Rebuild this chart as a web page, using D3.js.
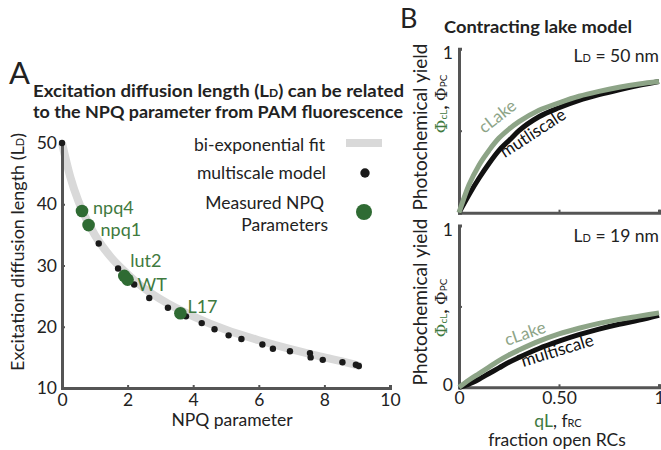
<!DOCTYPE html>
<html><head><meta charset="utf-8">
<script src="https://cdn.jsdelivr.net/npm/d3@7"></script>
<style>
body{margin:0;background:#fff;}
svg{display:block;font-family:Lato,"Open Sans",sans-serif;}
</style></head>
<body><svg id="c" width="661" height="450"></svg>
<script>
// ---------- Panel A data ----------
const npqModel = [0,1.12,1.71,2.2,2.66,3.23,3.78,4.26,4.65,5.08,5.47,6.11,6.43,6.95,7.56,7.58,7.95,8.55,8.96,9.05];
const ldModel  = [50,33.6,29.5,26.9,24.7,23.1,21.7,20.6,19.6,18.6,18.0,17.1,16.4,16.0,15.7,15.0,14.6,14.2,13.8,13.6];
const fitNpq = [0,0.25,0.5,0.75,1,1.5,2,2.5,3,4,5,6,7,8,9,9.1];
const fitLd  = [50,44.5,40.5,37.5,35,31.3,28.6,26.3,24.5,21.7,19.5,17.8,16.3,15.0,13.7,13.55];
const mutants = ["npq4","npq1","lut2","WT","L17"];
const mutNpq  = [0.61,0.81,1.9,2.0,3.61];
const mutLd   = [38.9,36.6,28.3,27.7,22.2];
const xTicksA = [0,2,4,6,8,10];
const yTicksA = [10,20,30,40,50];
// ---------- Panel B data ----------
const frac = [0,0.05,0.1,0.15,0.2,0.25,0.3,0.4,0.5,0.6,0.7,0.8,0.9,1.0];
const top_cLake = [0,0.17,0.29,0.38,0.455,0.51,0.555,0.625,0.67,0.71,0.74,0.765,0.785,0.80];
const top_multi = [0,0.11,0.21,0.30,0.38,0.44,0.50,0.585,0.64,0.685,0.72,0.75,0.777,0.80];
const bot_cLake = [0,0.045,0.085,0.125,0.165,0.20,0.23,0.285,0.33,0.365,0.395,0.42,0.44,0.46];
const bot_multi = [0,0.02,0.05,0.085,0.12,0.155,0.185,0.24,0.285,0.325,0.36,0.39,0.415,0.445];
const xTicksB = [0,0.5,1];
const xTickLabelsB = ["0","0.50","1"];

const svg = d3.select("#c");
const AX = "#555";
const GREEN = "#2f6b33";
const GTEXT = "#3f7a40";
const LAKE = "#8da487";
const FS = 17.5;

// ======== Panel A ========
const xA = d3.scaleLinear().domain([0,10]).range([62,390]);
const yA = d3.scaleLinear().domain([10,50]).range([388,143]);

svg.append("text").attr("x",9).attr("y",84).attr("font-size",31).attr("fill","#222").text("A");
svg.append("text").attr("x",33).attr("y",97).attr("font-size",17).attr("font-weight","bold").attr("fill","#222")
  .attr("textLength",371).attr("lengthAdjust","spacingAndGlyphs")
  .html('Excitation diffusion length (L<tspan font-size="11">D</tspan>) can be related');
svg.append("text").attr("x",33).attr("y",118).attr("font-size",17).attr("font-weight","bold").attr("fill","#222")
  .attr("textLength",370).attr("lengthAdjust","spacingAndGlyphs")
  .text("to the NPQ parameter from PAM fluorescence");

// fit band
const fitData = fitNpq.map((x,i)=>[x,fitLd[i]]);
svg.append("path").datum(fitData)
  .attr("d", d3.line().x(d=>xA(d[0])).y(d=>yA(d[1])).curve(d3.curveMonotoneX))
  .attr("fill","none").attr("stroke","#d9d9d9").attr("stroke-width",8);

// axes
const gxA = svg.append("g").attr("transform","translate(0,388)")
  .call(d3.axisBottom(xA).tickValues(xTicksA).tickSize(-3).tickPadding(4).tickFormat(d3.format("d")));
const gyA = svg.append("g").attr("transform","translate(62,0)")
  .call(d3.axisLeft(yA).tickValues(yTicksA).tickSize(-3).tickPadding(5));
[gxA,gyA].forEach(g=>{
  g.select(".domain").attr("stroke",AX).attr("stroke-width",3);
  g.selectAll(".tick line").attr("stroke",AX).attr("stroke-width",2);
  g.selectAll(".tick text").attr("font-size",FS).attr("fill","#222").attr("font-family","Lato,sans-serif");
});
gxA.selectAll(".tick text").attr("dy","0.8em");
svg.append("text").attr("x",232).attr("y",426).attr("text-anchor","middle").attr("font-size",FS).attr("fill","#222").text("NPQ parameter");
svg.append("text").attr("transform","translate(24,252) rotate(-90)").attr("text-anchor","middle").attr("font-size",FS+0.5).attr("fill","#222")
  .html('Excitation diffusion length (L<tspan font-size="11">D</tspan>)');

// model dots
svg.append("g").selectAll("circle").data(npqModel).join("circle")
  .attr("cx",d=>xA(d)).attr("cy",(d,i)=>yA(ldModel[i])).attr("r",3.2).attr("fill","#1a1a1a");
// measured
svg.append("g").selectAll("circle").data(mutNpq).join("circle")
  .attr("cx",d=>xA(d)).attr("cy",(d,i)=>yA(mutLd[i])).attr("r",6.3).attr("fill",GREEN);
const labOff = [[11,-3],[12,5],[6,-15],[10,5],[7,-6]];
svg.append("g").selectAll("text").data(mutants).join("text")
  .attr("x",(d,i)=>xA(mutNpq[i])+labOff[i][0]).attr("y",(d,i)=>yA(mutLd[i])+labOff[i][1]+6)
  .attr("font-size",18).attr("fill",GTEXT).text(d=>d);

// legend
const lg = svg.append("g").attr("font-size",FS).attr("fill","#222").attr("text-anchor","end");
lg.append("text").attr("x",325).attr("y",151).text("bi-exponential fit");
lg.append("rect").attr("x",346).attr("y",139).attr("width",36).attr("height",8).attr("fill","#d9d9d9");
lg.append("text").attr("x",326).attr("y",179).text("multiscale model");
lg.append("circle").attr("cx",365).attr("cy",173).attr("r",4.7).attr("fill","#1a1a1a");
lg.append("text").attr("x",324).attr("y",209).text("Measured NPQ");
lg.append("text").attr("x",328).attr("y",231).text("Parameters");
lg.append("circle").attr("cx",364).attr("cy",212).attr("r",8).attr("fill",GREEN);

// ======== Panel B ========
svg.append("text").attr("x",400).attr("y",28).attr("font-size",27).attr("fill","#222").text("B");
svg.append("text").attr("x",444).attr("y",33).attr("font-size",17.5).attr("font-weight","bold").attr("fill","#222")
  .attr("textLength",188).attr("lengthAdjust","spacingAndGlyphs").text("Contracting lake model");

const xB = d3.scaleLinear().domain([0,1]).range([459,659]);
const panels = [
  {y0:212.7, y1:48.7, cl:top_cLake, ms:top_multi, ld:"50", msName:"mutliscale",
   clLab:[501,121,-38], msLab:[536,138,-33], ldY:62, yLab:127, phiY:104, showZero:false, showX:false},
  {y0:387.3, y1:225.5, cl:bot_cLake, ms:bot_multi, ld:"19", msName:"multiscale",
   clLab:[527,339,-19], msLab:[559,356,-17], ldY:242, yLab:302, phiY:308, showZero:true, showX:true}
];
panels.forEach(p=>{
  const yB = d3.scaleLinear().domain([0,1]).range([p.y0,p.y1]);
  const gx = svg.append("g").attr("transform",`translate(0,${p.y0})`)
    .call(d3.axisBottom(xB).tickValues(xTicksB).tickSize(-3).tickPadding(4).tickFormat((d,i)=>p.showX?xTickLabelsB[i]:""));
  const gy = svg.append("g").attr("transform","translate(459,0)")
    .call(d3.axisLeft(yB).tickValues([0,0.5,1]).tickSize(-3).tickPadding(6).tickFormat(d=> d===1?"1":(d===0&&p.showZero?"0":"")));
  [gx,gy].forEach(g=>{
    g.select(".domain").attr("stroke",AX).attr("stroke-width",3);
    g.selectAll(".tick line").attr("stroke",AX).attr("stroke-width",2);
    g.selectAll(".tick text").attr("font-size",FS).attr("fill","#222").attr("font-family","Lato,sans-serif");
  });
  gx.selectAll(".tick text").attr("dy","0.72em");
  gy.selectAll(".tick text").filter(d=>d===1).attr("dy","0.55em");
  gy.selectAll(".tick text").filter(d=>d===0).attr("dy","0.2em");

  const line = d3.line().x((d,i)=>xB(frac[i])).y(d=>yB(d)).curve(d3.curveMonotoneX);
  svg.append("path").datum(p.ms).attr("d",line).attr("fill","none").attr("stroke","#111").attr("stroke-width",5);
  svg.append("path").datum(p.cl).attr("d",line).attr("fill","none").attr("stroke",LAKE).attr("stroke-width",5);

  svg.append("text").attr("transform",`translate(${p.clLab[0]},${p.clLab[1]}) rotate(${p.clLab[2]})`)
    .attr("text-anchor","middle").attr("font-size",17).attr("fill",LAKE).text("cLake");
  svg.append("text").attr("transform",`translate(${p.msLab[0]},${p.msLab[1]}) rotate(${p.msLab[2]})`)
    .attr("text-anchor","middle").attr("font-size",17).attr("fill","#111").text(p.msName);

  svg.append("text").attr("x",659).attr("y",p.ldY).attr("text-anchor","end").attr("font-size",FS).attr("fill","#222")
    .html(`L<tspan font-size="11">D</tspan> = ${p.ld} nm`);
  svg.append("text").attr("transform",`translate(427,${p.yLab}) rotate(-90)`).attr("text-anchor","middle")
    .attr("font-size",19).attr("fill","#222").text("Photochemical yield");
  svg.append("text").attr("transform",`translate(447,${p.phiY}) rotate(-90)`).attr("text-anchor","middle")
    .attr("font-size",17).attr("fill","#222")
    .html(`<tspan fill="${GTEXT}" font-family="DejaVu Serif">Φ</tspan><tspan fill="${GTEXT}" font-size="10">cL</tspan><tspan font-weight="bold">,</tspan> <tspan font-family="DejaVu Serif">Φ</tspan><tspan font-size="10">PC</tspan>`);
});
svg.append("text").attr("x",558).attr("y",427).attr("text-anchor","middle").attr("font-size",FS).attr("fill","#222")
  .html(`<tspan fill="${GTEXT}">qL</tspan>, f<tspan font-size="11">RC</tspan>`);
svg.append("text").attr("x",557).attr("y",446).attr("text-anchor","middle").attr("font-size",FS).attr("fill","#222")
  .text("fraction open RCs");
</script></body></html>
